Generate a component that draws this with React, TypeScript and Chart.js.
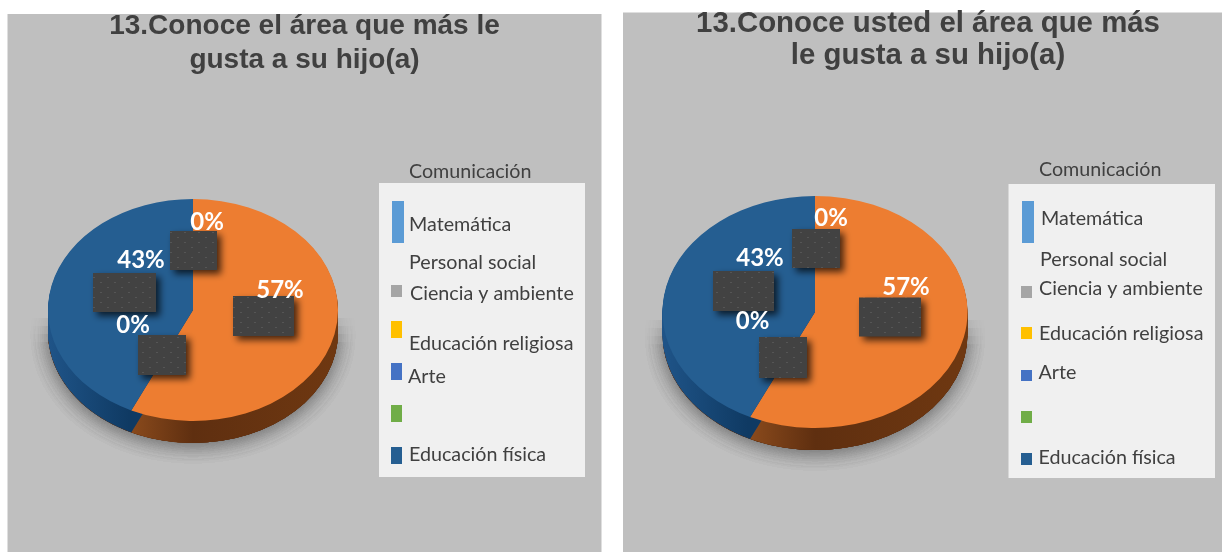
import React, { useEffect, useRef } from "react";
import { Chart, registerables } from "chart.js";

Chart.register(...registerables);

const areas = ["Comunicación", "Matemática", "Personal social", "Ciencia y ambiente", "Educación religiosa", "Arte", "Educación física"];
const percentages = [0, 57, 0, 0, 0, 0, 43];
const sliceColors = ["#5B9BD5", "#ED7D31", "#A5A5A5", "#FFC000", "#4472C4", "#70AD47", "#255E91"];
const sideLight = ["#3d6c95", "#8d4c1d", "#666666", "#8a6900", "#2a4478", "#426a2a", "#1f5488"];
const sideDark = ["#2d5070", "#5f2f10", "#4a4a4a", "#6a5000", "#1f335a", "#2f4d1e", "#0f3a63"];
const leftTitle = ["13.Conoce el área que más le", "gusta a su hijo(a)"];
const rightTitle = ["13.Conoce usted el área que más", "le gusta a su hijo(a)"];

type Box = [number, number, number, number];
type Spec = {
  origin: [number, number]; size: [number, number]; panel: Box; title: string[]; titleFont: number; titleLine: number;
  pie: { cx: number; cy: number; rx: number; ry: number; depth: number };
  legendBox: Box;
  legendText: Record<number, [number, number]>;
  swatches: Record<number, Box>;
  dataLabels: Record<number, [number, number]>;
  patches: Box[];
};

const leftLayout: Spec = {
  origin: [0, 0], size: [609, 552], panel: [7.5, 14, 594, 538], title: leftTitle, titleFont: 28, titleLine: 34,
  pie: { cx: 193, cy: 310, rx: 145, ry: 111, depth: 22 },
  legendBox: [379, 183, 206, 294],
  legendText: { 0: [409, 171.5], 1: [409, 225], 2: [409, 263], 3: [410, 294], 4: [409, 344], 5: [408, 377], 6: [409, 455] },
  swatches: { 0: [392, 201, 12, 42], 2: [391, 285, 11, 12], 3: [391, 321, 11, 17], 4: [391, 363, 11, 17], 5: [391, 405, 11, 17], 6: [391, 447, 11, 17] },
  dataLabels: { 0: [207, 222], 1: [280, 290], 6: [141, 260], 5: [133, 325] },
  patches: [[170, 231, 47, 39], [93, 273, 63, 39], [233, 296, 61, 40], [138, 335, 48, 40]],
};

const rightLayout: Spec = {
  origin: [623, 0], size: [610, 552], panel: [623, 12.5, 610, 540], title: rightTitle, titleFont: 29.4, titleLine: 32,
  pie: { cx: 815, cy: 312, rx: 152.5, ry: 116, depth: 22 },
  legendBox: [1008.5, 184, 206.5, 294],
  legendText: { 0: [1039, 170], 1: [1041, 219], 2: [1040, 260], 3: [1039, 289], 4: [1039, 333.5], 5: [1038.5, 373], 6: [1038.5, 458] },
  swatches: { 0: [1022, 201, 12, 42], 2: [1021, 286, 11, 12], 3: [1021, 327, 11, 12], 4: [1021, 370, 11, 11], 5: [1021, 411, 11, 12], 6: [1021, 453, 11, 12] },
  dataLabels: { 0: [831, 218], 1: [906, 287], 6: [760, 258], 5: [752.5, 321] },
  patches: [[792, 229, 48, 39], [713, 271, 61, 40], [859, 297.5, 62, 39], [759, 337, 48, 41]],
};

const LEGEND_FONT = '19.7px Lato, "Open Sans", sans-serif';
const LABEL_FONT = 'bold 24px Lato, "Open Sans", sans-serif';

function dotted(ctx: CanvasRenderingContext2D) {
  const c = document.createElement("canvas");
  c.width = 14;
  c.height = 10;
  const p = c.getContext("2d")!;
  p.fillStyle = "#424242";
  p.fillRect(0, 0, 14, 10);
  p.fillStyle = "#555555";
  p.fillRect(2, 2, 2, 1);
  p.fillRect(9, 7, 2, 1);
  return ctx.createPattern(c, "repeat")!;
}

function sketchPlugin(spec: Spec) {
  const [ox, oy] = spec.origin;
  const { rx, ry, depth } = spec.pie;
  const squash = ry / rx;
  return {
    id: "sketch",
    afterLayout(chart: any) {
      // the title spans the whole canvas, not just the padded pie area
      const t = chart.titleBlock;
      t.left = 0;
      t.right = chart.width;
      t.width = chart.width;
    },
    beforeDraw(chart: any) {
      const ctx = chart.ctx as CanvasRenderingContext2D;
      ctx.save();
      ctx.translate(-ox, -oy);
      ctx.fillStyle = "#BFBFBF";
      ctx.fillRect(...spec.panel);
      ctx.fillStyle = "#F0F0F0";
      ctx.fillRect(...spec.legendBox);
      ctx.restore();
    },
    beforeDatasetsDraw(chart: any) {
      const ctx = chart.ctx as CanvasRenderingContext2D;
      const arcs = chart.getDatasetMeta(0).data;
      const px = arcs[0].x;
      const py = arcs[0].y;
      // soft drop shadow below the disc, fading in towards its lower part
      for (const start of [8, 16, 24, 32]) {
        ctx.save();
        ctx.beginPath();
        ctx.rect(px - rx - 40, py + start, 2 * rx + 80, ry + depth + 40);
        ctx.clip();
        ctx.shadowColor = "rgba(70,70,70,0.22)";
        ctx.shadowBlur = 18;
        ctx.shadowOffsetY = 3;
        ctx.fillStyle = "#5f2f10";
        ctx.beginPath();
        ctx.ellipse(px, py + depth, rx, ry, 0, 0, Math.PI * 2);
        ctx.fill();
        ctx.restore();
      }
      // extruded wall, made from the arc elements
      arcs.forEach((arc: any, i: number) => {
        if (percentages[i] === 0) return;
        // local to the translated pie centre; x only, so the y squash leaves it alone
        const g = ctx.createLinearGradient(-rx, 0, rx, 0);
        g.addColorStop(0, sideLight[i]);
        if (i === 1) {
          g.addColorStop(0.27, sideLight[i]);
          g.addColorStop(0.5, sideDark[i]);
          g.addColorStop(1, "#6f3811");
        } else {
          g.addColorStop(0.28, sideDark[i]);
        }
        ctx.fillStyle = g;
        for (let d = depth; d >= 1; d--) {
          ctx.save();
          ctx.translate(px, py + d);
          ctx.scale(1, squash);
          ctx.beginPath();
          ctx.moveTo(0, 0);
          ctx.arc(0, 0, arc.outerRadius, arc.startAngle, arc.endAngle);
          ctx.closePath();
          ctx.fill();
          ctx.restore();
        }
      });
      ctx.save();
      ctx.translate(px, py);
      ctx.scale(1, squash);
      ctx.translate(-px, -py);
    },
    afterDatasetsDraw(chart: any) {
      const ctx = chart.ctx as CanvasRenderingContext2D;
      ctx.restore();
      ctx.save();
      ctx.translate(-ox, -oy);
      const pattern = dotted(ctx);
      for (const [x, y, w, h] of spec.patches) {
        ctx.save();
        ctx.shadowColor = "rgba(0,0,0,0.7)";
        ctx.shadowBlur = 7;
        ctx.shadowOffsetX = 4;
        ctx.shadowOffsetY = 4;
        ctx.fillStyle = pattern;
        ctx.fillRect(x, y, w, h);
        ctx.restore();
      }
      const values = chart.data.datasets[0].data as number[];
      const total = values.reduce((a, b) => a + b, 0);
      ctx.font = LABEL_FONT;
      ctx.fillStyle = "#FFFFFF";
      ctx.textAlign = "center";
      ctx.textBaseline = "middle";
      for (const k of Object.keys(spec.dataLabels)) {
        const i = Number(k);
        const [x, y] = spec.dataLabels[i];
        ctx.fillText(Math.round((values[i] / total) * 100) + "%", x, y);
      }
      // legend: text rows and colour keys sit apart, as in the picture
      ctx.font = LEGEND_FONT;
      ctx.fillStyle = "#404040";
      ctx.textAlign = "left";
      (chart.data.labels as string[]).forEach((name, i) => {
        const at = spec.legendText[i];
        if (at) ctx.fillText(name, at[0], at[1]);
      });
      const colors = chart.data.datasets[0].backgroundColor as string[];
      for (const k of Object.keys(spec.swatches)) {
        const i = Number(k);
        ctx.fillStyle = colors[i];
        ctx.fillRect(...spec.swatches[i]);
      }
      ctx.restore();
    },
  };
}

function PieCard({ spec }: { spec: Spec }) {
  const ref = useRef<HTMLCanvasElement>(null);
  useEffect(() => {
    const [ox, oy] = spec.origin;
    const [w, h] = spec.size;
    const { cx, cy, rx } = spec.pie;
    const titleHeight = spec.title.length * spec.titleLine;
    const titleTop = spec.panel[1] - oy - 5;
    const chart = new Chart(ref.current!, {
      type: "pie",
      data: {
        labels: areas,
        datasets: [{ data: percentages, backgroundColor: sliceColors, borderWidth: 0 }],
      },
      options: {
        responsive: false,
        animation: false,
        devicePixelRatio: 1,
        rotation: 0,
        layout: {
          padding: {
            left: cx - rx - ox,
            right: w - (cx + rx - ox),
            top: 0,
            bottom: h - (cy + rx - oy),
          },
        },
        plugins: {
          legend: { display: false },
          tooltip: { enabled: false },
          title: {
            display: true,
            text: spec.title,
            color: "#404040",
            font: { family: '"Liberation Sans", Arial, sans-serif', size: spec.titleFont, weight: "bold", lineHeight: spec.titleLine / spec.titleFont },
            padding: { top: titleTop, bottom: cy - rx - oy - titleHeight - titleTop },
          },
        },
      },
      plugins: [sketchPlugin(spec)],
    } as any);
    return () => chart.destroy();
  }, [spec]);
  return (
    <canvas
      ref={ref}
      width={spec.size[0]}
      height={spec.size[1]}
      style={{ position: "absolute", left: spec.origin[0], top: spec.origin[1], width: spec.size[0], height: spec.size[1], display: "block" }}
    />
  );
}

export default function App() {
  useEffect(() => {
    document.body.style.margin = "0";
  }, []);
  return (
    <div style={{ position: "relative", width: 1222, height: 552, overflow: "hidden", background: "#FFFFFF" }}>
      <PieCard spec={leftLayout} />
      <PieCard spec={rightLayout} />
    </div>
  );
}
